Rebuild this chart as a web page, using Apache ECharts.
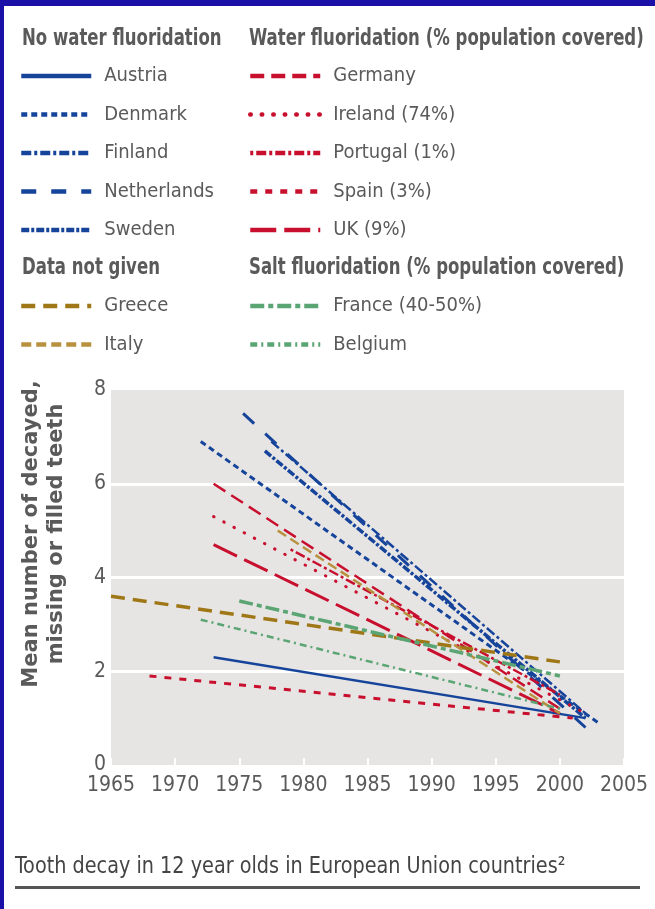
<!DOCTYPE html>
<html>
<head>
<meta charset="utf-8">
<script src="https://cdn.jsdelivr.net/npm/echarts@6/dist/echarts.min.js"></script>
<style>
  html, body { margin: 0; padding: 0; background: #fff; }
  #chart { width: 655px; height: 909px; }
</style>
</head>
<body>
<div id="chart"></div>
<script>
"use strict";

// [year, mean DMFT]
const austria = [[1973, 2.3], [2002, 1.0]];
const denmark = [[1972, 6.9], [2003, 0.9]];
const finland = [[1977.5, 6.9], [2002, 1.1]];
const netherlands = [[1975.3, 7.5], [2002, 0.8]];
const sweden = [[1977, 6.7], [2002, 1.0]];
const germany = [[1973, 6.0], [2000, 1.2]];
const ireland = [[1973, 5.3], [2002, 1.1]];
const portugal = [[1979, 4.6], [2000, 1.5]];
const spain = [[1968, 1.9], [2001, 1.0]];
const uk = [[1973, 4.7], [2000, 1.1]];
const greece = [[1965, 3.6], [2000, 2.2]];
const italy = [[1978, 5.0], [2000, 1.1]];
const france = [[1975, 3.5], [2000, 1.9]];
const belgium = [[1972, 3.1], [2000, 1.2]];

const noWater = ["Austria", "Denmark", "Finland", "Netherlands", "Sweden"];
const water = ["Germany", "Ireland (74%)", "Portugal (1%)", "Spain (3%)", "UK (9%)"];
const notGiven = ["Greece", "Italy"];
const salt = ["France (40-50%)", "Belgium"];

const BLUE = "#16449a";
const RED = "#c8102e";
const GREECE = "#9f7716";
const ITALY = "#b8913f";
const GREEN = "#5aa573";

const NARROW = "'DejaVu Sans Condensed', 'DejaVu Sans', sans-serif";
const GREY = "#5a5a5a";

const chart = echarts.init(document.getElementById("chart"));

const line = (name, data, color, width, type, cap) => ({
  name,
  type: "line",
  data,
  symbol: "none",
  silent: true,
  lineStyle: { color, width, type, cap: cap || "butt" },
  itemStyle: { color },
});

const series = [
  line("Austria", austria, BLUE, 2.5, "solid"),
  line("Denmark", denmark, BLUE, 3, [6, 4]),
  line("Finland", finland, BLUE, 2.5, [10, 3, 3, 3]),
  line("Netherlands", netherlands, BLUE, 3, [15, 15]),
  line("Sweden", sweden, BLUE, 3.5, [8, 2, 3, 2]),
  line("Germany", germany, RED, 2.5, [14, 7]),
  line("Ireland (74%)", ireland, RED, 3, [0.5, 11], "round"),
  line("Portugal (1%)", portugal, RED, 2.5, [3, 3, 10, 3]),
  line("Spain (3%)", spain, RED, 3, [7, 8]),
  line("UK (9%)", uk, RED, 3, [26, 8]),
  line("Greece", greece, GREECE, 3.5, [14, 8]),
  line("Italy", italy, ITALY, 2.5, [10, 5]),
  line("France (40-50%)", france, GREEN, 3.5, [14, 4, 5, 4]),
  line("Belgium", belgium, GREEN, 2.5, [7, 4, 2, 4]),
];

const legend = (names, left, top) => ({
  data: names,
  orient: "vertical",
  left,
  top,
  padding: 0,
  itemWidth: 70,
  itemHeight: 20,
  itemGap: 18.5,
  selectedMode: false,
  itemStyle: { opacity: 0 },
  lineStyle: { width: 4.5 },
  textStyle: {
    color: GREY,
    fontFamily: NARROW,
    fontSize: 20,
    lineHeight: 20,
    padding: [0, 0, 0, 8],
  },
});

const header = (text, x, y) => ({
  type: "text",
  x,
  y,
  scaleX: 0.8,
  style: {
    text,
    fill: GREY,
    font: "bold 23px " + NARROW,
    verticalAlign: "middle",
  },
});

chart.setOption({
  animation: false,
  backgroundColor: "#fff",
  grid: {
    left: 111,
    right: 31,
    top: 390,
    bottom: 144,
    show: true,
    backgroundColor: "#e6e5e4",
    borderWidth: 0,
  },
  legend: [
    legend(noWater, 19, 66),
    legend(water, 248, 66),
    legend(notGiven, 19, 296),
    legend(salt, 248, 296),
  ],
  xAxis: {
    type: "value",
    min: 1965,
    max: 2005,
    interval: 5,
    axisLine: { show: false },
    axisTick: { show: true, inside: true, length: 7, lineStyle: { color: "#fff", width: 2 } },
    splitLine: { show: false },
    axisLabel: { color: GREY, fontFamily: NARROW, fontSize: 21, margin: 10, formatter: (v) => String(v) },
  },
  yAxis: {
    type: "value",
    min: 0,
    max: 8,
    interval: 2,
    axisLine: { show: false },
    axisTick: { show: false },
    splitLine: { show: true, showMinLine: false, showMaxLine: false, lineStyle: { color: "#fff", width: 3 } },
    axisLabel: { color: GREY, fontFamily: NARROW, fontSize: 21, margin: 5 },
  },
  series,
  graphic: [
    // slide border
    { type: "rect", left: 0, top: 0, shape: { width: 655, height: 6 }, style: { fill: "#1a10a8" } },
    { type: "rect", left: 0, top: 0, shape: { width: 4, height: 909 }, style: { fill: "#1a10a8" } },
    header("No water fluoridation", 22, 39),
    header("Water fluoridation (% population covered)", 249, 39),
    header("Data not given", 22, 268),
    header("Salt fluoridation (% population covered)", 249, 268),
    {
      type: "text",
      x: 44,
      y: 534,
      rotation: Math.PI / 2,
      style: {
        text: "Mean number of decayed,\nmissing or filled teeth",
        fill: GREY,
        font: "bold 21px 'DejaVu Sans', sans-serif",
        lineHeight: 25,
        align: "center",
        verticalAlign: "middle",
      },
    },
    {
      type: "text",
      x: 15,
      y: 867,
      scaleX: 0.93,
      style: {
        text: "Tooth decay in 12 year olds in European Union countries²",
        fill: "#444",
        font: "23px " + NARROW,
        verticalAlign: "middle",
      },
    },
    { type: "rect", left: 15, top: 886, shape: { width: 625, height: 3 }, style: { fill: "#555" } },
  ],
});
</script>
</body>
</html>
